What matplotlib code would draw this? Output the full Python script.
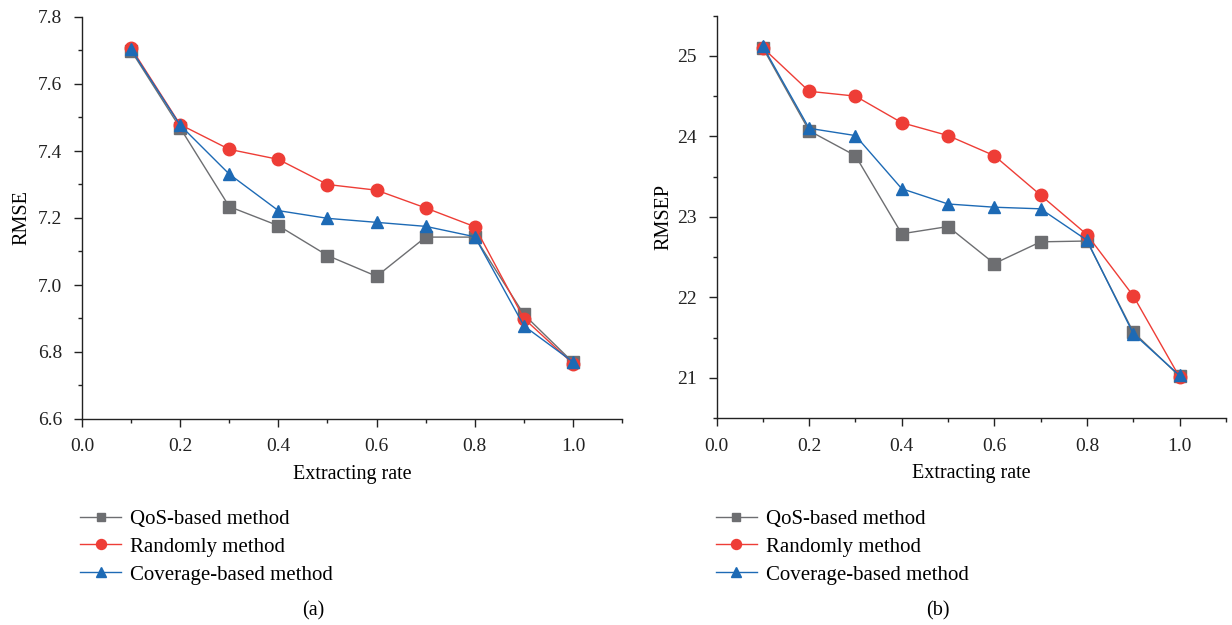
import matplotlib
matplotlib.use("Agg")
import matplotlib.pyplot as plt
from matplotlib.ticker import MultipleLocator, FormatStrFormatter

plt.rcParams['font.family'] = ['Liberation Serif', 'DejaVu Serif']

x = [0.1, 0.2, 0.3, 0.4, 0.5, 0.6, 0.7, 0.8, 0.9, 1.0]
labels = ["QoS-based method", "Randomly method", "Coverage-based method"]

rmse_qos = [7.700, 7.469, 7.234, 7.177, 7.088, 7.026, 7.143, 7.143, 6.912, 6.769]
rmse_rand = [7.708, 7.479, 7.405, 7.375, 7.300, 7.283, 7.230, 7.174, 6.900, 6.765]
rmse_cov = [7.704, 7.477, 7.331, 7.222, 7.199, 7.187, 7.175, 7.144, 6.878, 6.770]

rmsep_qos = [25.10, 24.07, 23.76, 22.79, 22.88, 22.42, 22.69, 22.70, 21.57, 21.02]
rmsep_rand = [25.10, 24.56, 24.50, 24.17, 24.01, 23.76, 23.27, 22.78, 22.02, 21.01]
rmsep_cov = [25.12, 24.10, 24.01, 23.35, 23.16, 23.12, 23.10, 22.71, 21.55, 21.03]

colors = ["#6d6e71", "#ee3d36", "#1d6ab5"]
markers = ["s", "o", "^"]
msizes = [8, 9, 9]

fig = plt.figure(figsize=(12.32, 6.25), dpi=100)
ax1 = fig.add_axes([0.0665, 0.3296, 0.4385, 0.6432])
ax2 = fig.add_axes([0.5816, 0.331, 0.4134, 0.644])


def style(ax, ylabel, ylim, ymaj, ymin, fmt, ypad):
    ax.set_xlim(0, 1.1)
    ax.set_ylim(*ylim)
    ax.xaxis.set_major_locator(MultipleLocator(0.2))
    ax.xaxis.set_minor_locator(MultipleLocator(0.1))
    ax.xaxis.set_major_formatter(FormatStrFormatter('%.1f'))
    ax.yaxis.set_major_locator(MultipleLocator(ymaj))
    ax.yaxis.set_minor_locator(MultipleLocator(ymin))
    ax.yaxis.set_major_formatter(FormatStrFormatter(fmt))
    for s in ["top", "right"]:
        ax.spines[s].set_visible(False)
    for s in ["left", "bottom"]:
        ax.spines[s].set_linewidth(1.0)
        ax.spines[s].set_color("#222222")
    ax.tick_params(which='major', direction='out', length=6, width=1, labelsize=14, pad=8, colors="#222222")
    ax.tick_params(which='minor', direction='out', length=3, width=1, colors="#222222")
    ax.set_xlabel("Extracting rate", fontsize=14.5, labelpad=7)
    ax.set_ylabel(ylabel, fontsize=14.5, labelpad=ypad)


series1 = [rmse_qos, rmse_rand, rmse_cov]
series2 = [rmsep_qos, rmsep_rand, rmsep_cov]
handles = []
for ys, c, m, ms, lab in zip(series1, colors, markers, msizes, labels):
    h, = ax1.plot(x, ys, color=c, marker=m, markersize=ms, linewidth=1.0, label=lab, clip_on=False, zorder=3)
    handles.append(h)
for ys, c, m, ms, lab in zip(series2, colors, markers, msizes, labels):
    ax2.plot(x, ys, color=c, marker=m, markersize=ms, linewidth=1.0, label=lab, clip_on=False, zorder=3)

style(ax1, "RMSE", (6.6, 7.8), 0.2, 0.1, '%.1f', 5)
style(ax2, "RMSEP", (20.5, 25.5), 1, 0.5, '%d', 3)

legkw = dict(frameon=False, fontsize=15, handlelength=2.0, labelspacing=0.4, handletextpad=0.4,
             markerscale=0.8, loc='upper left', bbox_transform=fig.transFigure, borderaxespad=0)
fig.legend(handles, labels, bbox_to_anchor=(0.058, 0.1985), **legkw)
fig.legend(handles, labels, bbox_to_anchor=(0.574, 0.1985), **legkw)

fig.text(0.254, 0.022, "(a)", ha='center', va='center', fontsize=14.5)
fig.text(0.761, 0.022, "(b)", ha='center', va='center', fontsize=14.5)

fig.savefig("out.png", dpi=100)
